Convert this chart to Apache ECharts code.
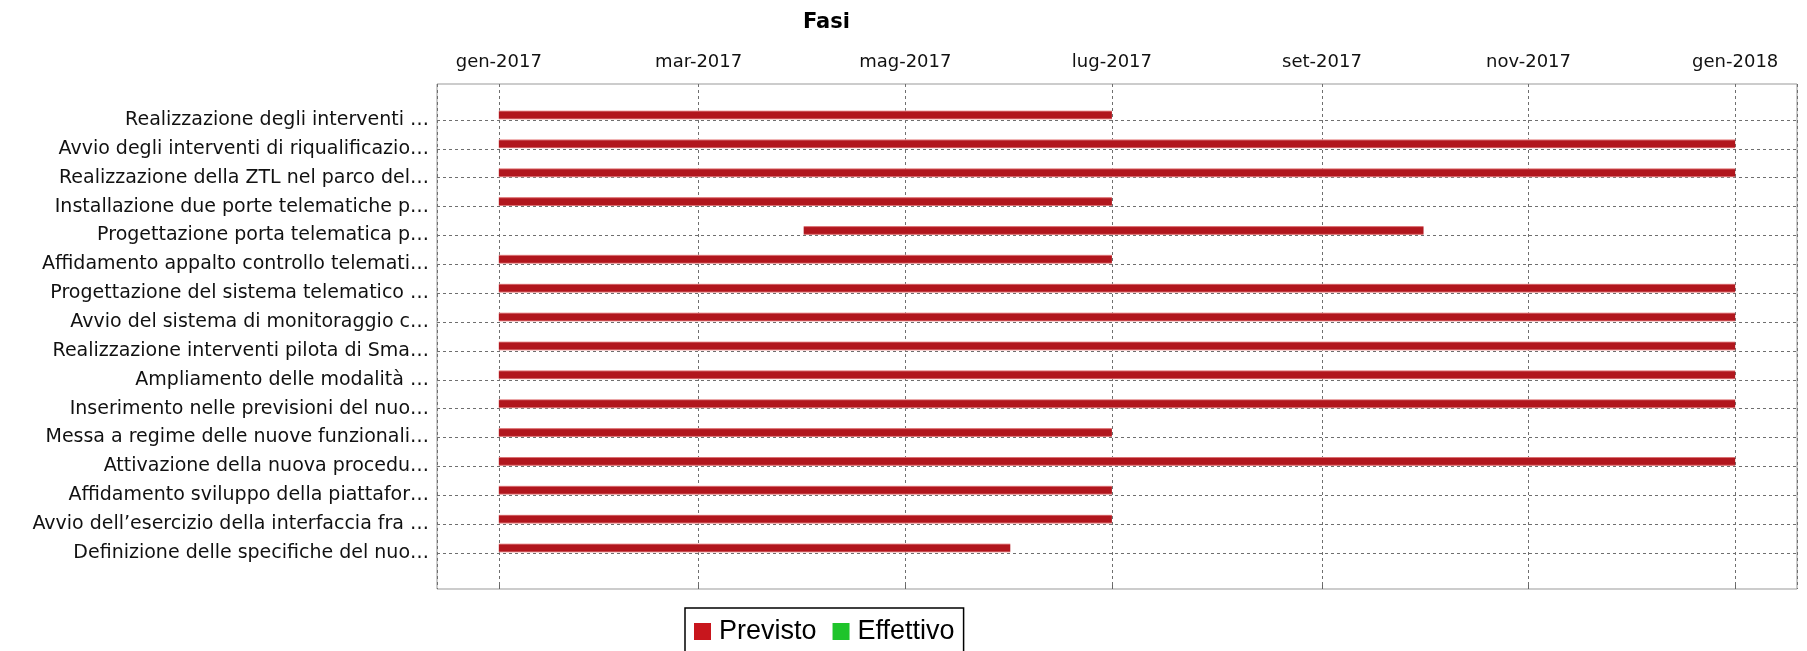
<!DOCTYPE html>
<html><head><meta charset="utf-8">
<script src="https://cdn.jsdelivr.net/npm/echarts@6/dist/echarts.min.js"></script>
<style>html,body{margin:0;padding:0;background:#fff}#c{width:1807px;height:651px}</style>
</head><body><div id="c"></div>
<script>
const categories = [
  'Realizzazione degli interventi …',
  'Avvio degli interventi di riqualificazio…',
  'Realizzazione della ZTL nel parco del…',
  'Installazione due porte telematiche p…',
  'Progettazione porta telematica p…',
  'Affidamento appalto controllo telemati…',
  'Progettazione del sistema telematico …',
  'Avvio del sistema di monitoraggio c…',
  'Realizzazione interventi pilota di Sma…',
  'Ampliamento delle modalità …',
  'Inserimento nelle previsioni del nuo…',
  'Messa a regime delle nuove funzionali…',
  'Attivazione della nuova procedu…',
  'Affidamento sviluppo della piattafor…',
  'Avvio dell’esercizio della interfaccia fra …',
  'Definizione delle specifiche del nuo…'
];
const previstoStart = [
  '2017-01-01','2017-01-01','2017-01-01','2017-01-01','2017-04-01','2017-01-01','2017-01-01','2017-01-01',
  '2017-01-01','2017-01-01','2017-01-01','2017-01-01','2017-01-01','2017-01-01','2017-01-01','2017-01-01'
];
const previstoEnd = [
  '2017-07-01','2018-01-01','2018-01-01','2017-07-01','2017-10-01','2017-07-01','2018-01-01','2018-01-01',
  '2018-01-01','2018-01-01','2018-01-01','2017-07-01','2018-01-01','2017-07-01','2017-07-01','2017-06-01'
];
const effettivoStart = [];
const effettivoEnd = [];
const seriesNames = ['Previsto', 'Effettivo'];
const monthNames = ['gen','feb','mar','apr','mag','giu','lug','ago','set','ott','nov','dic'];
const titleText = 'Fasi';

function toTs(s) { const p = s.split('-').map(Number); return new Date(p[0], p[1] - 1, p[2]).getTime(); }

const allTs = previstoStart.concat(previstoEnd, effettivoStart, effettivoEnd).map(toTs);
const dMin = Math.min.apply(null, allTs), dMax = Math.max.apply(null, allTs);
const margin = (dMax - dMin) * 0.05;
const axMin = dMin - margin, axMax = dMax + margin;

const prevData = categories.map((c, i) => [i, toTs(previstoStart[i]), toTs(previstoEnd[i])]);
const effData = effettivoStart.map((s, i) => [i, toTs(s), toTs(effettivoEnd[i])]);

function renderBar(offsetTop, light, dark) {
  return function (params, api) {
    const cat = api.value(0);
    const s = api.coord([api.value(1), cat]);
    const e = api.coord([api.value(2), cat]);
    return {
      type: 'rect',
      shape: { x: s[0], y: s[1] + offsetTop, width: e[0] - s[0], height: 9 },
      style: {
        fill: new echarts.graphic.LinearGradient(0, 0, 0, 1, [
          { offset: 0, color: light }, { offset: 0.18, color: dark },
          { offset: 0.82, color: dark }, { offset: 1, color: light }
        ])
      }
    };
  };
}

const chart = echarts.init(document.getElementById('c'));
const gridLine = { show: true, lineStyle: { color: '#6f6f6f', type: [3, 3], width: 1 } };
chart.setOption({
  animation: false,
  backgroundColor: '#fff',
  title: {
    text: titleText, left: 803, top: 12, padding: 0,
    textStyle: { fontFamily: 'DejaVu Sans', fontWeight: 'bold', fontSize: 21, color: '#000' }
  },
  legend: {
    data: seriesNames, left: 685, top: 608, orient: 'horizontal',
    icon: 'rect', itemWidth: 17, itemHeight: 17, itemGap: 16,
    borderColor: '#000', borderWidth: 1.5, padding: [10, 9, 20, 9],
    textStyle: { fontFamily: 'Liberation Sans', fontSize: 27, color: '#000', padding: [0, 0, 0, 3] }
  },
  grid: [
    { left: 437, top: 84, width: 1360, height: 505, show: true, borderColor: '#999', borderWidth: 1, backgroundColor: '#fff' },
    { left: 437, top: 120, width: 1360, height: 433 }
  ],
  xAxis: [
    {
      type: 'time', gridIndex: 0, position: 'top', min: axMin, max: axMax, splitNumber: 6,
      axisLine: { show: false },
      axisTick: { show: true, length: 4, lineStyle: { color: '#666' } },
      axisLabel: {
        fontFamily: 'DejaVu Sans', fontSize: 18, color: '#111', margin: 13,
        showMinLabel: false, showMaxLabel: false,
        formatter: function (v) { const d = new Date(v); if (d.getDate() !== 1) return ''; return monthNames[d.getMonth()] + '-' + d.getFullYear(); }
      },
      splitLine: gridLine
    },
    { type: 'time', gridIndex: 1, min: axMin, max: axMax, show: false }
  ],
  yAxis: [
    { type: 'value', gridIndex: 0, show: false },
    {
      type: 'category', gridIndex: 1, data: categories, inverse: true, boundaryGap: false,
      axisLine: { show: false }, axisTick: { show: false },
      axisLabel: { fontFamily: 'DejaVu Sans', fontSize: 19, color: '#111', margin: 8, interval: 0 },
      splitLine: gridLine
    }
  ],
  series: [
    {
      name: seriesNames[0], type: 'custom', xAxisIndex: 1, yAxisIndex: 1, clip: false,
      itemStyle: { color: '#c8161d' },
      encode: { x: [1, 2], y: 0 },
      renderItem: renderBar(-9.5, '#f0a6a6', '#b1161d'),
      data: prevData
    },
    {
      name: seriesNames[1], type: 'custom', xAxisIndex: 1, yAxisIndex: 1, clip: false,
      itemStyle: { color: '#1fc42b' },
      encode: { x: [1, 2], y: 0 },
      renderItem: renderBar(0.5, '#a6f0ab', '#1fc42b'),
      data: effData
    }
  ]
});
</script></body></html>
